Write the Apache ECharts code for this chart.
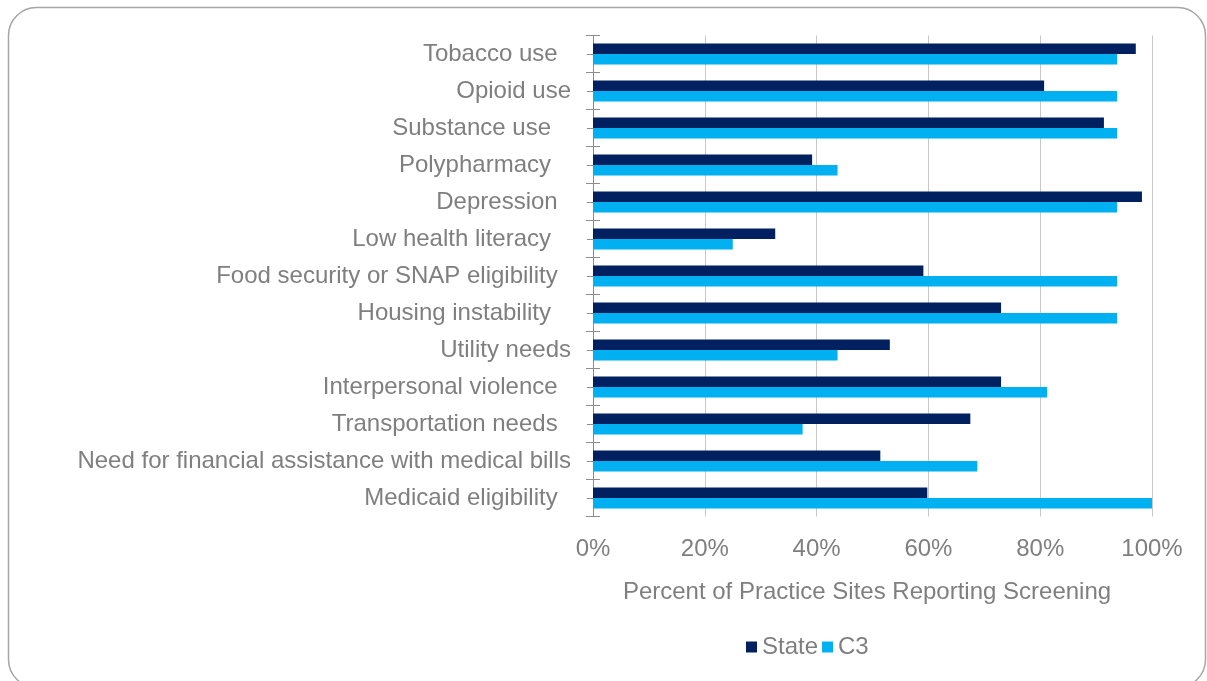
<!DOCTYPE html>
<html>
<head>
<meta charset="utf-8">
<script src="https://cdn.jsdelivr.net/npm/echarts@6/dist/echarts.min.js"></script>
<style>
html,body{margin:0;padding:0;background:#fff;}
#chart{width:1207px;height:681px;}
</style>
</head>
<body>
<div id="chart"></div>
<script>
const categories = [
  "Tobacco use  ",
  "Opioid use",
  "Substance use   ",
  "Polypharmacy   ",
  "Depression  ",
  "Low health literacy   ",
  "Food security or SNAP eligibility  ",
  "Housing instability   ",
  "Utility needs",
  "Interpersonal violence  ",
  "Transportation needs  ",
  "Need for financial assistance with medical bills",
  "Medicaid eligibility  "
];
const stateValues = [97.1, 80.7, 91.4, 39.2, 98.2, 32.6, 59.1, 73.0, 53.1, 73.0, 67.5, 51.4, 59.8];
const c3Values = [93.75, 93.75, 93.75, 43.75, 93.75, 25, 93.75, 93.75, 43.75, 81.25, 37.5, 68.75, 100];
const xTickValues = [0, 20, 40, 60, 80, 100];
const seriesNames = ["State", "C3"];
const axisTitle = "Percent of Practice Sites Reporting Screening";

const FONT = "'Liberation Sans', Arial, sans-serif";
const TEXT = "#7f7f7f";
const chart = echarts.init(document.getElementById('chart'), null, {renderer: 'canvas'});

const yBase = {
  type: 'category', data: categories, inverse: true,
  position: 'left', axisLabel: {show: false}, splitLine: {show: false}
};

chart.setOption({
  animation: false,
  backgroundColor: '#ffffff',
  title: {
    text: axisTitle, left: 862, top: 575, textAlign: 'center',
    textStyle: {fontFamily: FONT, fontSize: 24, fontWeight: 'normal', color: TEXT}
  },
  legend: {
    data: seriesNames, left: 741, top: 630,
    itemWidth: 11, itemHeight: 11, itemGap: 4, icon: 'rect',
    textStyle: {fontFamily: FONT, fontSize: 24, color: TEXT}
  },
  grid: {left: 593, right: 55, top: 35.5, bottom: 164.5, containLabel: false},
  xAxis: {
    type: 'value', min: 0, max: 100, interval: 20,
    axisLine: {show: false}, axisTick: {show: false},
    axisLabel: {
      fontFamily: FONT, fontSize: 24, color: TEXT, margin: 21,
      formatter: v => xTickValues.includes(v) ? v + '%' : ''
    },
    splitLine: {show: true, lineStyle: {color: '#c8c8c8', width: 1}}
  },
  yAxis: [
    Object.assign({}, yBase, {
      axisLine: {show: true, lineStyle: {color: '#8c8c8c', width: 1}},
      axisTick: {show: true, length: 7, inside: false, lineStyle: {color: '#8c8c8c'}},
      axisLabel: {show: true, fontFamily: FONT, fontSize: 24, color: TEXT, margin: 22}
    }),
    Object.assign({}, yBase, {
      axisLine: {show: false},
      axisTick: {show: true, length: 7, inside: true, lineStyle: {color: '#8c8c8c'}}
    }),
    Object.assign({}, yBase, {
      axisLine: {show: false},
      axisTick: {show: true, length: 6, inside: false, alignWithLabel: true, lineStyle: {color: '#8c8c8c'}}
    })
  ],
  graphic: [{
    type: 'rect', silent: true, z: -10,
    shape: {x: 8.5, y: 7.5, width: 1197, height: 680, r: 28},
    style: {fill: 'none', stroke: '#a6a6a6', lineWidth: 1.5}
  }],
  series: [
    {name: seriesNames[0], type: 'bar', yAxisIndex: 0, data: stateValues,
     barWidth: 10.5, barGap: '0%', itemStyle: {color: '#002060'}},
    {name: seriesNames[1], type: 'bar', yAxisIndex: 0, data: c3Values,
     barWidth: 10.5, barGap: '0%', itemStyle: {color: '#00b0f0'}}
  ]
});
</script>
</body>
</html>
